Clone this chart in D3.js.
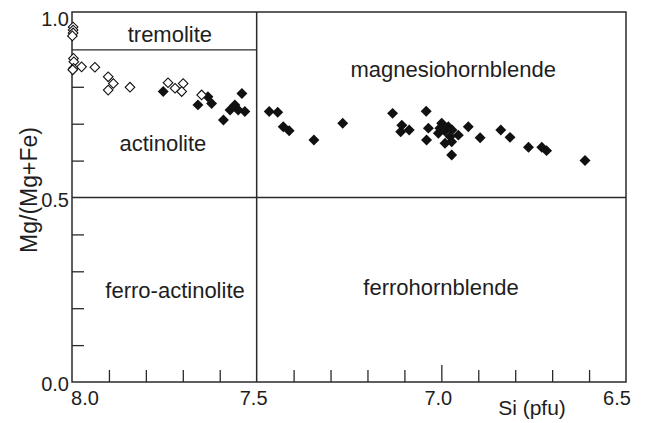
<!DOCTYPE html>
<html>
<head>
<meta charset="utf-8">
<script src="https://cdn.jsdelivr.net/npm/d3@7"></script>
<style>
  body { margin: 0; background: #fff; }
  text { font-family: "Liberation Sans", Arial, sans-serif; fill: #1e1e1e; }
</style>
</head>
<body>
<div id="chart1"></div>
<script>
// open diamonds (Si pfu, Mg/(Mg+Fe))
var openSi = [7.997, 7.997, 7.997, 7.999, 7.996, 7.995, 7.996, 7.998, 7.974, 7.938,
              7.902, 7.888, 7.902, 7.843, 7.740, 7.699, 7.721, 7.703, 7.649];
var openMg = [0.962, 0.954, 0.946, 0.938, 0.877, 0.868, 0.850, 0.846, 0.854, 0.853,
              0.827, 0.809, 0.791, 0.799, 0.811, 0.809, 0.796, 0.787, 0.778];

// filled diamonds
var filledSi = [7.753, 7.632, 7.659, 7.622, 7.540, 7.559, 7.572, 7.550, 7.532, 7.590,
                7.466, 7.443, 7.428, 7.412, 7.345, 7.267, 7.132, 7.041, 7.107, 7.087,
                7.110, 7.035, 7.040, 7.008, 6.999, 6.981, 6.976, 6.972, 6.990, 6.954,
                6.927, 6.895, 6.972, 6.839, 6.814, 6.764, 6.728, 6.715, 6.611,
                7.004, 6.990, 6.971];
var filledMg = [0.787, 0.773, 0.751, 0.755, 0.782, 0.751, 0.737, 0.737, 0.733, 0.710,
                0.733, 0.731, 0.692, 0.681, 0.656, 0.701, 0.728, 0.734, 0.696, 0.683,
                0.678, 0.688, 0.656, 0.674, 0.701, 0.692, 0.665, 0.651, 0.647, 0.669,
                0.692, 0.662, 0.615, 0.683, 0.663, 0.636, 0.636, 0.627, 0.600,
                0.688, 0.680, 0.683];

var xTickLabels = [8.0, 7.5, 7.0, 6.5];
var yTickLabels = [0.0, 0.5, 1.0];
var xMinor = [7.9, 7.8, 7.7, 7.6, 7.4, 7.3, 7.2, 7.1, 7.0, 6.9, 6.8, 6.7, 6.6];
var yMinor = [0.1, 0.2, 0.3, 0.4, 0.6, 0.7, 0.8];

// field boundaries
var siBoundary = 7.5;
var mgBoundary = 0.5;
var tremoliteMg = 0.9;

// field names, anchored in data units
var fieldNames = ["tremolite", "magnesiohornblende", "actinolite", "ferro-actinolite", "ferrohornblende"];
var fieldSi = [7.735, 6.968, 7.754, 7.721, 7.001];
var fieldMg = [0.921, 0.827, 0.626, 0.228, 0.236];

var width = 645, height = 423;
var margin = { top: 13, right: 19, bottom: 41, left: 72 };

var svg = d3.select("#chart1").append("svg")
    .attr("width", width)
    .attr("height", height);

var x = d3.scaleLinear()
    .domain([8.0, 6.5])
    .range([margin.left, width - margin.right]);

var y = d3.scaleLinear()
    .domain([0, 1])
    .range([height - margin.bottom, margin.top]);

var lineColor = "#2a2a2a";

// frame
svg.append("rect")
    .attr("x", x(8.0))
    .attr("y", y(1) - 1)
    .attr("width", x(6.5) - x(8.0))
    .attr("height", y(0) - y(1) + 1)
    .attr("fill", "none")
    .attr("stroke", lineColor)
    .attr("stroke-width", 1.5);

// boundaries
svg.append("line")
    .attr("x1", x(siBoundary)).attr("x2", x(siBoundary))
    .attr("y1", y(1) - 1).attr("y2", y(0))
    .attr("stroke", lineColor).attr("stroke-width", 1.5);

svg.append("line")
    .attr("x1", x(8.0)).attr("x2", x(6.5))
    .attr("y1", y(mgBoundary)).attr("y2", y(mgBoundary))
    .attr("stroke", lineColor).attr("stroke-width", 1.5);

svg.append("line")
    .attr("x1", x(8.0)).attr("x2", x(siBoundary))
    .attr("y1", y(tremoliteMg)).attr("y2", y(tremoliteMg))
    .attr("stroke", lineColor).attr("stroke-width", 1.3);

// minor ticks, pointing inside
svg.append("g")
    .attr("transform", "translate(0," + y(0) + ")")
    .call(d3.axisTop(x).tickValues(xMinor).tickSize(0).tickFormat(""))
    .call(function (g) {
        g.select(".domain").remove();
        g.selectAll(".tick line")
            .attr("y2", function (d) { return d == 7.0 ? -17 : -12; })
            .attr("stroke", lineColor)
            .attr("stroke-width", 1.3);
    });

svg.append("g")
    .attr("transform", "translate(" + x(8.0) + ",0)")
    .call(d3.axisRight(y).tickValues(yMinor).tickSize(12).tickFormat(""))
    .call(function (g) {
        g.select(".domain").remove();
        g.selectAll(".tick line").attr("stroke", lineColor).attr("stroke-width", 1.3);
    });

// tick labels
svg.append("g")
    .selectAll("text")
    .data(xTickLabels)
    .enter().append("text")
    .attr("x", function (d) { return x(d); })
    .attr("dx", function (d) { return d == 8.0 ? 13 : (d == 6.5 ? -9 : -3); })
    .attr("y", y(0) + 23)
    .attr("text-anchor", "middle")
    .style("font-size", "20px")
    .text(function (d) { return d.toFixed(1); });

svg.append("g")
    .selectAll("text")
    .data(yTickLabels)
    .enter().append("text")
    .attr("x", x(8.0) - 3)
    .attr("y", function (d) { return y(d); })
    .attr("dy", function (d) { return d == 1 ? 13 : 9; })
    .attr("text-anchor", "end")
    .style("font-size", "20px")
    .text(function (d) { return d.toFixed(1); });

// axis titles
svg.append("text")
    .attr("x", 532)
    .attr("y", 415)
    .attr("text-anchor", "middle")
    .style("font-size", "21px")
    .text("Si (pfu)");

svg.append("text")
    .attr("transform", "translate(37,190) rotate(-90)")
    .attr("text-anchor", "middle")
    .style("font-size", "23px")
    .text("Mg/(Mg+Fe)");

// field names
svg.append("g")
    .selectAll("text")
    .data(fieldNames)
    .enter().append("text")
    .attr("x", function (d, i) { return x(fieldSi[i]); })
    .attr("y", function (d, i) { return y(fieldMg[i]); })
    .attr("text-anchor", "middle")
    .style("font-size", "22px")
    .text(function (d) { return d; });

// points: diamonds as rotated squares
var openPts = openSi.map(function (d, i) { return { si: d, mg: openMg[i] }; });
var filledPts = filledSi.map(function (d, i) { return { si: d, mg: filledMg[i] }; });

svg.append("g")
    .selectAll("path")
    .data(filledPts)
    .enter().append("path")
    .attr("d", d3.symbol().type(d3.symbolSquare).size(60))
    .attr("transform", function (d) { return "translate(" + x(d.si) + "," + y(d.mg) + ") rotate(45)"; })
    .attr("fill", "#111");

svg.append("g")
    .selectAll("path")
    .data(openPts)
    .enter().append("path")
    .attr("d", d3.symbol().type(d3.symbolSquare).size(46))
    .attr("transform", function (d) { return "translate(" + x(d.si) + "," + y(d.mg) + ") rotate(45)"; })
    .attr("fill", "#fff")
    .attr("stroke", "#111")
    .attr("stroke-width", 1.1);
</script>
</body>
</html>
